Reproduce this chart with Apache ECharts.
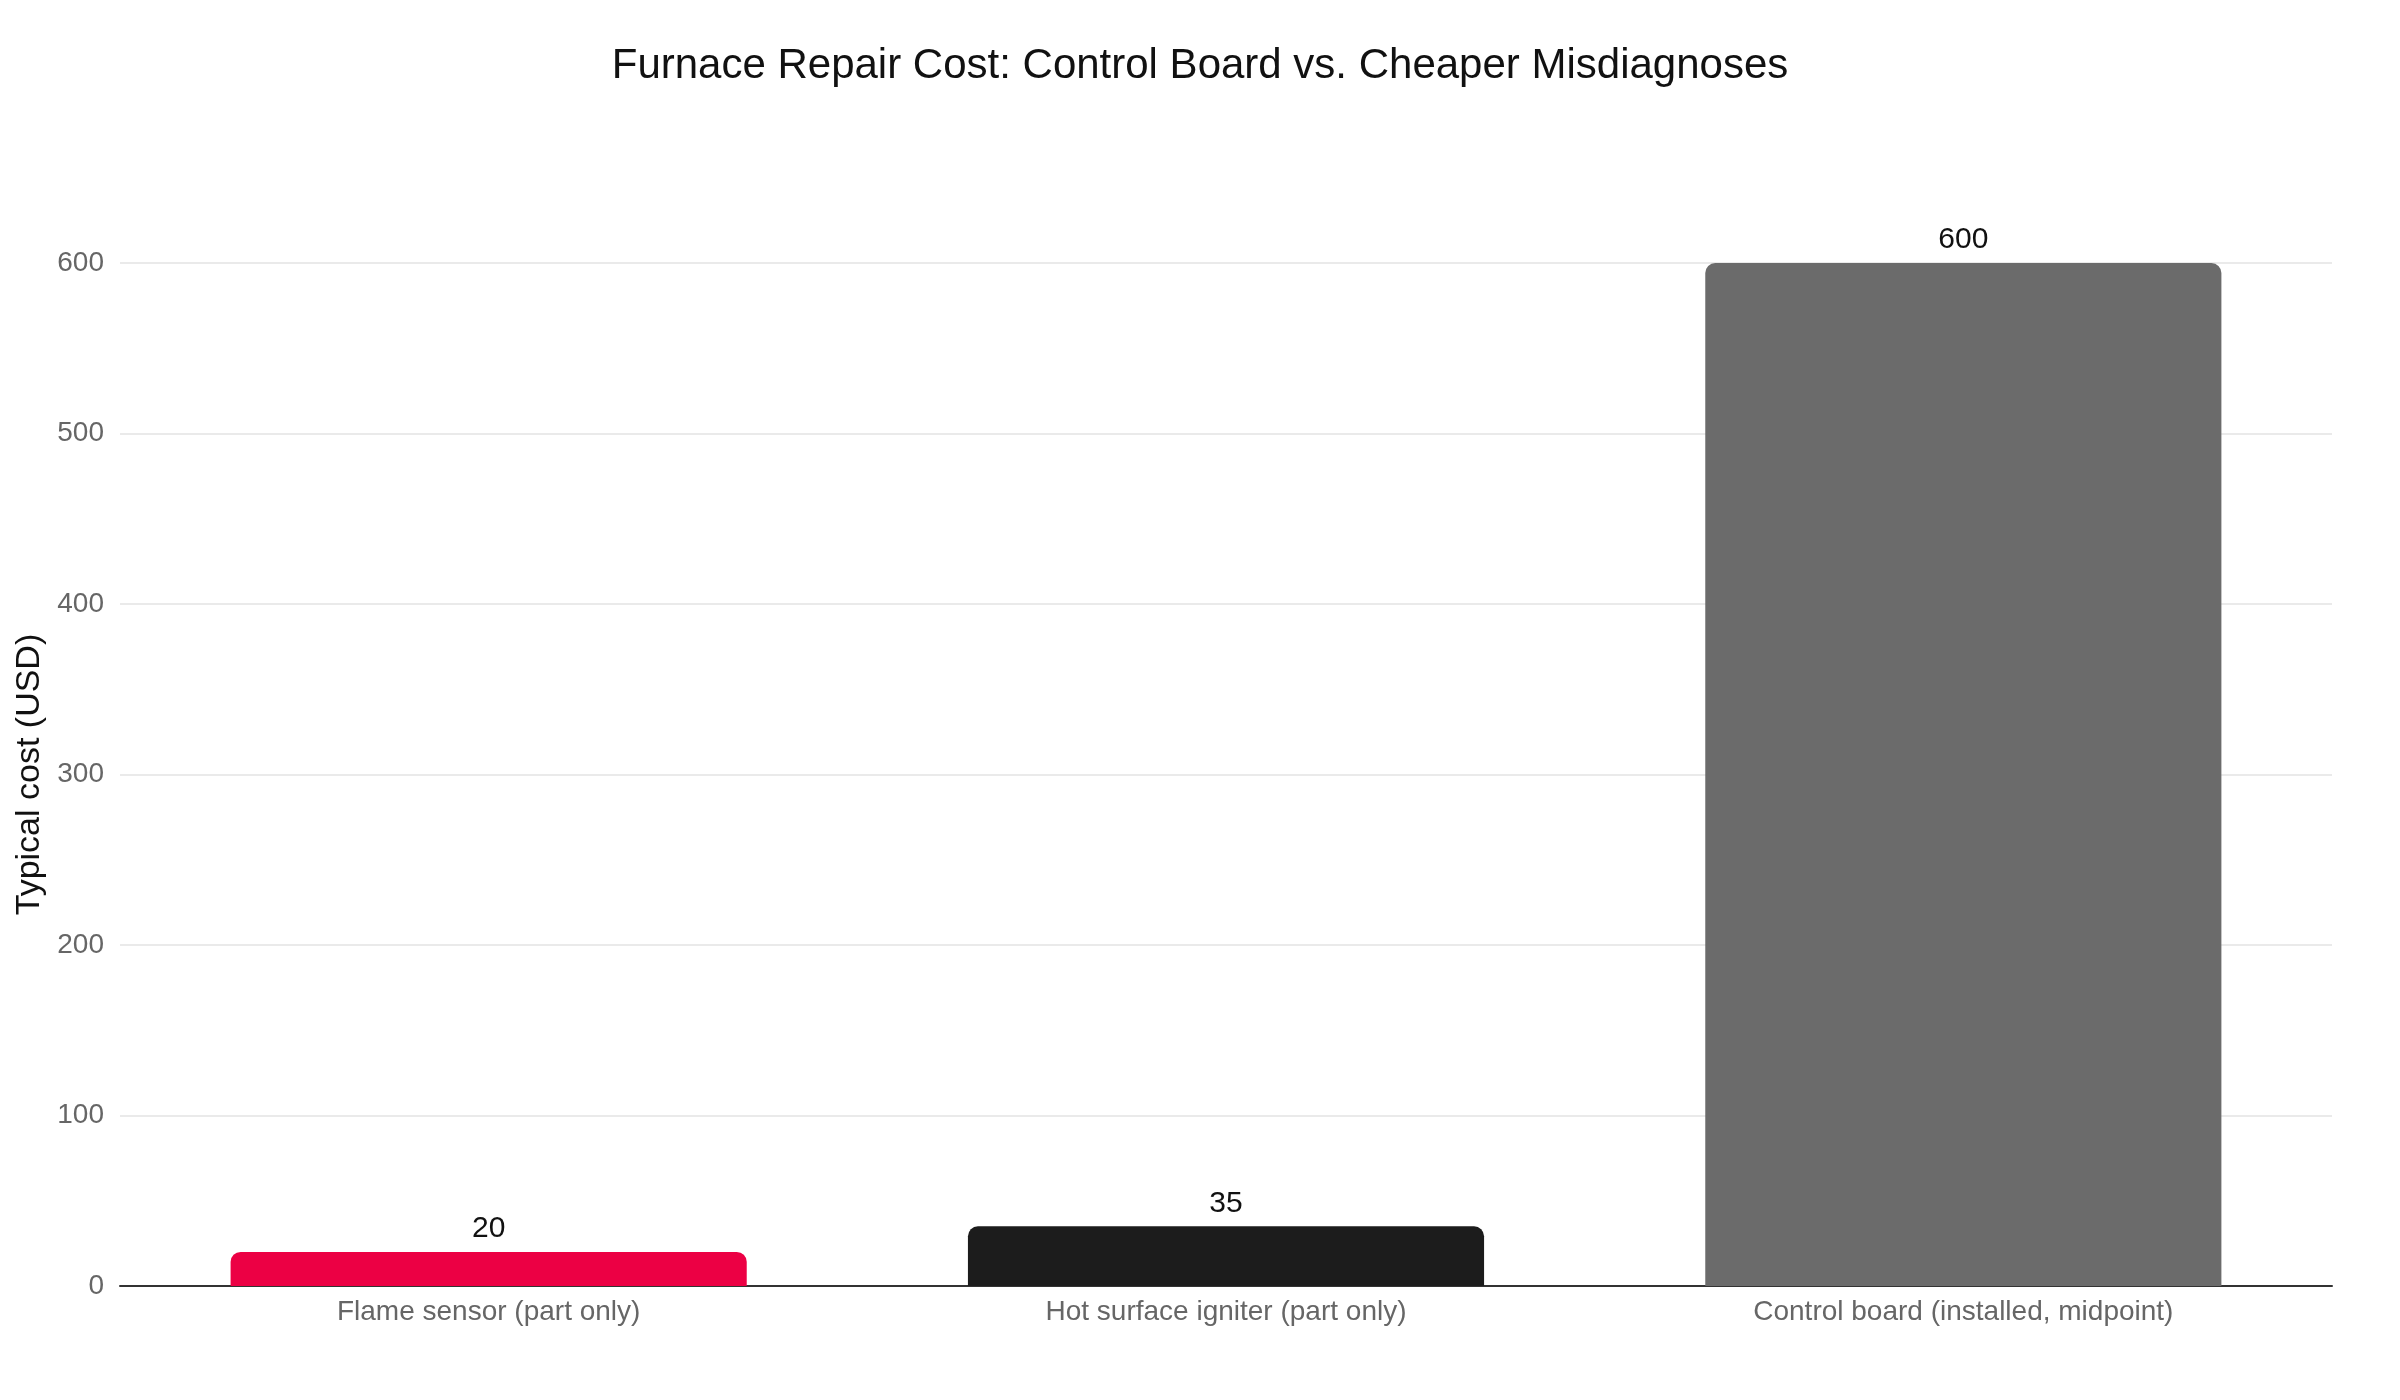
<!DOCTYPE html>
<html>
<head>
<meta charset="utf-8">
<script src="https://cdn.jsdelivr.net/npm/echarts@6/dist/echarts.min.js"></script>
<style>html,body{margin:0;padding:0;background:#fff}#chart{width:2400px;height:1400px}</style>
</head>
<body>
<div id="chart"></div>
<script>
// 数据
var categories = ['Flame sensor (part only)', 'Hot surface igniter (part only)', 'Control board (installed, midpoint)'];
var costs = [20, 35, 600];
var barColors = ['#ec0044', '#1c1c1c', '#6b6b6b'];

var chart = echarts.init(document.getElementById('chart'));
var font = 'Liberation Sans, Arial, sans-serif';
chart.setOption({
    title: {
        text: 'Furnace Repair Cost: Control Board vs. Cheaper Misdiagnoses',
        left: 'center',
        top: 40,
        textStyle: {fontFamily: font, fontSize: 42, fontWeight: 'normal', color: '#111'}
    },
    grid: {left: 120, right: 68, top: 263, bottom: 114},
    xAxis: {
        type: 'category',
        data: categories,
        axisTick: {show: false},
        axisLine: {lineStyle: {color: '#333', width: 2}},
        axisLabel: {fontFamily: font, fontSize: 28, color: '#666', margin: 12}
    },
    yAxis: {
        type: 'value',
        min: 0,
        max: 600,
        interval: 100,
        name: 'Typical cost (USD)',
        nameLocation: 'middle',
        nameGap: 72,
        nameTextStyle: {fontFamily: font, fontSize: 34, color: '#111'},
        axisLabel: {fontFamily: font, fontSize: 28, color: '#666', margin: 16},
        splitLine: {lineStyle: {color: '#e3e3e3', width: 1.5}}
    },
    series: [{
        type: 'bar',
        barWidth: '70%',
        data: costs.map(function (v, i) {
            return {value: v, itemStyle: {color: barColors[i], borderRadius: [10, 10, 0, 0]}};
        }),
        label: {show: true, position: 'top', fontFamily: font, fontSize: 30, color: '#111', distance: 8}
    }]
});
</script>
</body>
</html>
